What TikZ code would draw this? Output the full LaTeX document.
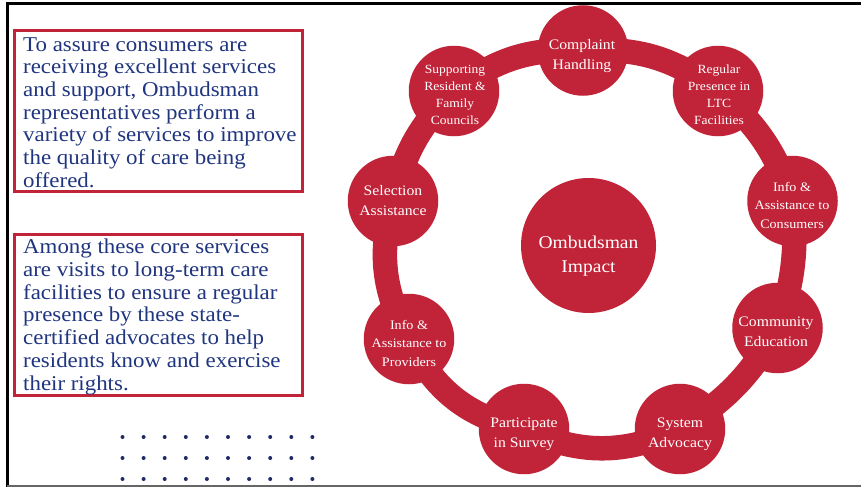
\documentclass[tikz,border=0pt]{standalone}
\usepackage{fontspec}
\setmainfont[FakeStretch=1.085]{Liberation Serif}
\usetikzlibrary{backgrounds}
\definecolor{ringred}{HTML}{C12338}
\definecolor{navytext}{HTML}{20357F}
\definecolor{dotnavy}{HTML}{1F2A66}
\tikzset{
  hub/.style={circle,fill=ringred,draw=none,inner sep=0pt,minimum size=90.5pt},
  bighub/.style={circle,fill=ringred,draw=none,inner sep=0pt,minimum size=135pt},
  link/.style={draw=ringred,line width=24.5pt},
  lblbig/.style={text=white,align=center,font=\fontsize{14.5}{20}\selectfont},
  lblsmall/.style={text=white,align=center,font=\fontsize{12.5}{17}\selectfont},
  lblmid/.style={text=white,align=center,font=\fontsize{13}{18.5}\selectfont},
  lblcentre/.style={text=white,align=center,font=\fontsize{18}{24.5}\selectfont},
  notebox/.style={draw=ringred,line width=3pt,anchor=north west,inner sep=0pt,outer sep=0pt,minimum width=288pt,minimum height=161pt},
  notetext/.style={text=navytext,anchor=north west,inner sep=0pt,align=left,font=\fontsize{21.1}{22.7}\selectfont},
  dotmark/.style={circle,fill=dotnavy,inner sep=0pt,minimum size=4pt}
}
\begin{document}
\begin{tikzpicture}[x=1pt,y=-1pt]
\useasboundingbox (0,0) rectangle (861,487);
% frame
\draw[black,line width=2.6pt] (7.3,487) -- (7.3,3.7) -- (861,3.7);
\draw[black!60,line width=1.6pt] (7.3,486.2) -- (861,486.2);
% note boxes
\node[notebox] (boxa) at (14.7,30.7) {};
\node[notebox] (boxb) at (14.7,234.6) {};
\node[notetext] (texta) at (23,37) {To assure consumers are\\receiving excellent services\\and support, Ombudsman\\representatives perform a\\variety of services to improve\\the quality of care being\\offered.};
\node[notetext] (textb) at (23,239) {Among these core services\\are visits to long-term care\\facilities to ensure a regular\\presence by these state-\\certified advocates to help\\residents know and exercise\\their rights.};
% dots
\foreach \r in {437,458,479}
  \foreach \c in {0,...,9}
    \node[dotmark] (dot\r-\c) at (122.5+21.1*\c,\r) {};
% hubs
\node[hub] (complaint) at (583,50.5) {};
\node[hub] (regular) at (718,91) {};
\node[hub] (infocons) at (792.5,201) {};
\node[hub] (community) at (777.5,328) {};
\node[hub] (system) at (680,429) {};
\node[hub] (survey) at (524,429) {};
\node[hub] (infoprov) at (409,339) {};
\node[hub] (selection) at (393,201) {};
\node[hub] (councils) at (454,91) {};
\node[bighub] (impact) at (588.5,245.5) {};
% ring
\begin{scope}[on background layer]
\fill[white] (0,0) rectangle (861,487);
\draw[link] (complaint.center) to[bend left=20] (regular.center);
\draw[link] (regular.center) to[bend left=15] (infocons.center);
\draw[link] (infocons.center) to[bend left=12] (community.center);
\draw[link] (community.center) to[bend left=14] (system.center);
\draw[link] (system.center) to[bend left=25] (survey.center);
\draw[link] (survey.center) to[bend left=26] (infoprov.center);
\draw[link] (infoprov.center) to[bend left=22] (selection.center);
\draw[link] (selection.center) to[bend left=16] (councils.center);
\draw[link] (councils.center) to[bend left=20] (complaint.center);
\end{scope}
% labels
\node[lblbig] (tcomplaint) at (582,56) {Complaint\\Handling};
\node[lblsmall] (tregular) at (719,95) {Regular\\Presence in\\LTC\\Facilities};
\node[lblmid] (tinfocons) at (792,205) {Info \&\\Assistance to\\Consumers};
\node[lblbig] (tcommunity) at (776,332) {Community\\Education};
\node[lblbig] (tsystem) at (680,434) {System\\Advocacy};
\node[lblbig] (tsurvey) at (524,434) {Participate\\in Survey};
\node[lblmid] (tinfoprov) at (409,343) {Info \&\\Assistance to\\Providers};
\node[lblbig] (tselection) at (393,200.5) {Selection\\Assistance};
\node[lblsmall] (tcouncils) at (455,95) {Supporting\\Resident \&\\Family\\Councils};
\node[lblcentre] (timpact) at (588.5,256) {Ombudsman\\Impact};
\end{tikzpicture}
\end{document}
